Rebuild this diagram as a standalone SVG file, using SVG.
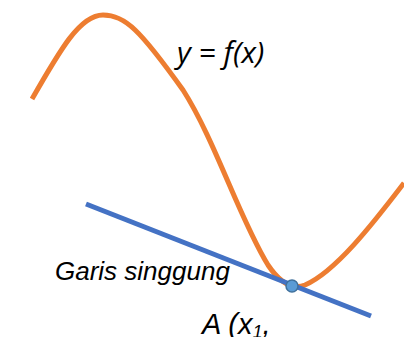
<svg xmlns="http://www.w3.org/2000/svg" width="404" height="337" viewBox="0 0 404 337">
<style>
.curve{fill:none;stroke:#ED7D31;stroke-width:5;stroke-linecap:butt}
.tan{fill:none;stroke:#4472C4;stroke-width:5}
.pt{fill:#5B9BD5;stroke:#41719C;stroke-width:1.5}
.lbl{font-family:"Liberation Sans",Arial,sans-serif;font-style:italic;fill:#000}
.fx{font-family:"Open Sans","Liberation Sans",sans-serif;font-style:italic;fill:#000}
</style>
<rect width="404" height="337" fill="#fff"/>
<g id="connectors">
<path id="curve" class="curve" d="M32,99 C60,50 80,15 103,15 C125,15 140,30 183,90 C215,140 240,220 268,265 C280,283 292,290 305,285 C335,272 372,225 404,183"/>
<line id="tangent" class="tan" x1="86" y1="204" x2="371" y2="316"/>
</g>
<g id="point-A"><circle class="pt" cx="292" cy="286" r="6"/></g>
<g id="label-fx"><text class="fx" x="177" y="63" font-size="30">y = f(x)</text></g>
<g id="label-tangent"><text class="lbl" x="55" y="280" font-size="26">Garis singgung</text></g>
<g id="label-A"><text class="lbl" x="202" y="334" font-size="29">A (x<tspan font-size="18" dy="4">1</tspan><tspan dy="-4">,</tspan></text></g>
</svg>
